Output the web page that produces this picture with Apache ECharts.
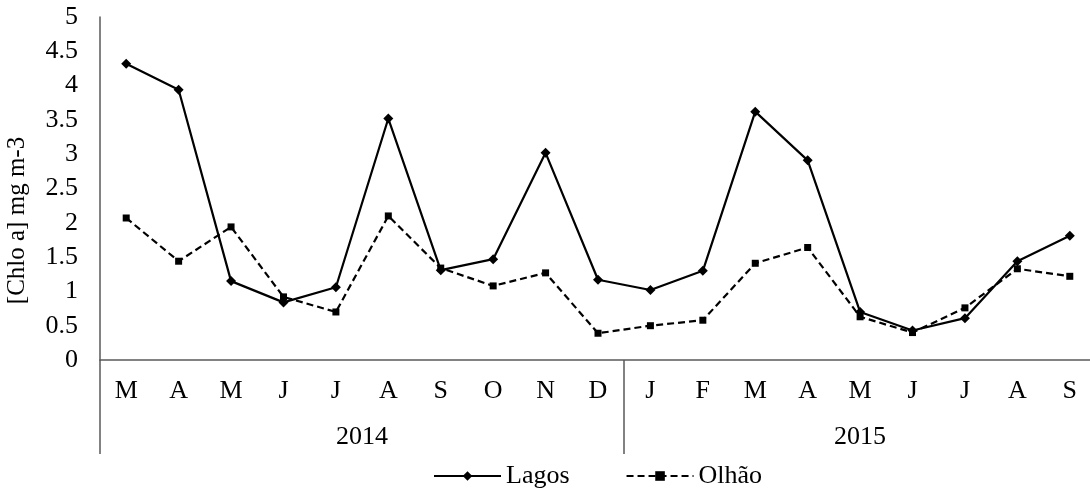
<!DOCTYPE html>
<html>
<head>
    <meta charset="UTF-8">
    <title>Chlo a</title>
    <script src="https://cdn.jsdelivr.net/npm/echarts@6/dist/echarts.min.js"></script>
</head>
<body style="margin:0;background:#ffffff">
    <div id="chart" style="width:1090px; height:490px;"></div>
    <script>
        // months, two years
        var months = ['M', 'A', 'M', 'J', 'J', 'A', 'S', 'O', 'N', 'D', 'J', 'F', 'M', 'A', 'M', 'J', 'J', 'A', 'S'];
        var years = ['2014', '2015'];
        var yearCounts = [10, 9];
        var lagos = [4.32, 3.94, 1.15, 0.84, 1.06, 3.52, 1.31, 1.47, 3.02, 1.17, 1.02, 1.30, 3.62, 2.91, 0.70, 0.43, 0.61, 1.44, 1.81];
        var olhao = [2.07, 1.44, 1.94, 0.92, 0.70, 2.10, 1.34, 1.08, 1.27, 0.39, 0.50, 0.58, 1.41, 1.64, 0.63, 0.40, 0.76, 1.33, 1.22];

        var font = 'Liberation Serif, Times New Roman, serif';
        var axisGrey = '#595959';

        // year separators and year label centres, in category units
        var sepVals = [0];
        var yearMid = [];
        var acc = 0;
        for (var i = 0; i < years.length; i++) {
            yearMid.push(acc + yearCounts[i] / 2);
            acc += yearCounts[i];
            sepVals.push(acc);
        }

        var chart = echarts.init(document.getElementById('chart'), null, {renderer: 'canvas'});
        chart.setOption({
            animation: false,
            grid: {left: 100, top: 17, width: 996, height: 343, outerBoundsMode: 'none', containLabel: false},
            xAxis: [{
                type: 'category',
                data: months,
                boundaryGap: true,
                axisLine: {lineStyle: {color: axisGrey, width: 1.5}},
                axisTick: {show: false},
                axisLabel: {color: '#000', fontFamily: font, fontSize: 26, margin: 18}
            }, {
                type: 'value',
                min: 0,
                max: months.length,
                position: 'bottom',
                splitLine: {show: false},
                axisLine: {show: false},
                axisTick: {show: true, customValues: sepVals, length: 94, lineStyle: {color: axisGrey, width: 1.5}},
                axisLabel: {
                    customValues: yearMid,
                    color: '#000', fontFamily: font, fontSize: 26, margin: 64,
                    formatter: function (v) {
                        for (var k = 0; k < yearMid.length; k++) {
                            if (Math.abs(yearMid[k] - v) < 0.01) return years[k];
                        }
                        return '';
                    }
                }
            }],
            yAxis: {
                type: 'value',
                min: 0,
                max: 5,
                interval: 0.5,
                name: '[Chlo a] mg m-3',
                nameLocation: 'middle',
                nameRotate: 90,
                nameGap: 70,
                nameTextStyle: {color: '#000', fontFamily: font, fontSize: 25, padding: [0, 64, 0, 0]},
                axisLine: {show: true, lineStyle: {color: axisGrey, width: 1.5}},
                axisTick: {show: false},
                splitLine: {show: false},
                axisLabel: {color: '#000', fontFamily: font, fontSize: 26, margin: 22}
            },
            legend: {
                left: 428,
                top: 458,
                itemWidth: 67,
                itemHeight: 12,
                itemGap: 56,
                textStyle: {color: '#000', fontFamily: font, fontSize: 26},
                data: ['Lagos', 'Olhão']
            },
            series: [{
                name: 'Lagos',
                type: 'line',
                data: lagos,
                symbol: 'diamond',
                symbolSize: 10,
                itemStyle: {color: '#000'},
                lineStyle: {color: '#000', width: 2.2}
            }, {
                name: 'Olhão',
                type: 'line',
                data: olhao,
                symbol: 'rect',
                symbolSize: 7,
                itemStyle: {color: '#000'},
                lineStyle: {color: '#000', width: 2.2, type: [7, 4]}
            }]
        });
    </script>
</body>
</html>
